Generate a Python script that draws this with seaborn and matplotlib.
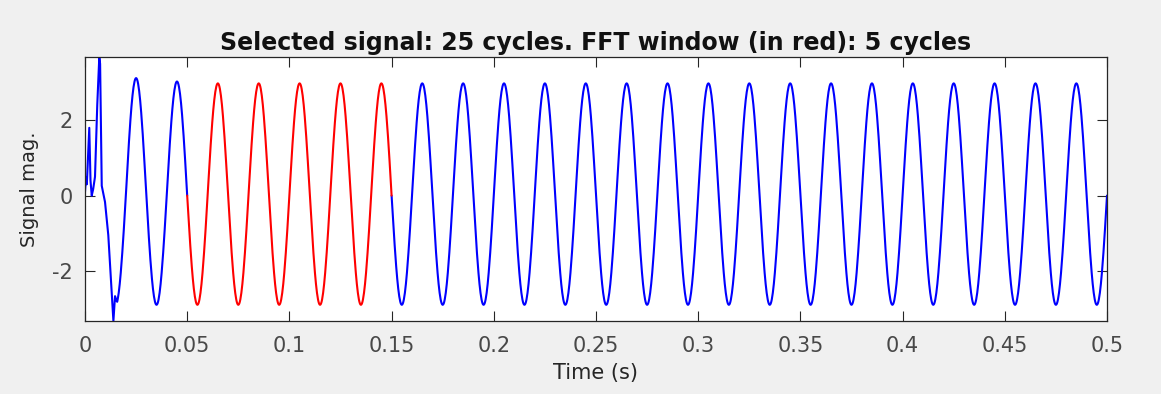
import numpy as np
import pandas as pd
import matplotlib
matplotlib.use("Agg")
import matplotlib.pyplot as plt
import seaborn as sns

### DATA ###

freq_hz = 50.0
n_cycles = 25
fft_start, fft_end = 0.05, 0.15

# start-up transient, explicit points
transient_t = [0.0, 0.0005, 0.0009, 0.0021, 0.0027, 0.0033, 0.0040, 0.0049,
               0.0060, 0.0070, 0.0074, 0.0082, 0.0098, 0.0114, 0.0132, 0.0139,
               0.0147, 0.0155]
transient_v = [0.09, 0.49, 0.30, 1.80, 0.40, 0.0, 0.17, 0.50,
               2.40, 3.68, 3.50, 0.26, -0.17, -1.05, -2.70, -3.33,
               -2.67, -2.80]

# positive and negative peak of each cycle (cycle 0 is the transient)
peak_vals = [3.0, 3.12, 3.03] + [2.98] * 22
trough_vals = [-2.9, -2.90] + [-2.90] * 23

### BUILD SIGNAL ###

t_rows, v_rows = list(transient_t), list(transient_v)
for k in range(n_cycles):
    tt = np.round(np.linspace(0.02 * k, 0.02 * (k + 1), 81)[1:], 9)
    ph = np.sin(2 * np.pi * freq_hz * tt)
    vv = np.where(ph >= 0, ph * peak_vals[k], -ph * trough_vals[k])
    keep = tt > transient_t[-1]
    t_rows += list(tt[keep])
    v_rows += list(vv[keep])

df = pd.DataFrame({"time": t_rows, "mag": v_rows})
eps = 1e-9
in_win = (df.time >= fft_start - eps) & (df.time <= fft_end + eps)
df["window"] = np.where(in_win, "fft", "sig")
df["segment"] = np.select([df.time < fft_start - eps, in_win], [0, 1], 2)
# repeat boundary points so the coloured pieces join up
edges = df[np.isclose(df.time, fft_start) | np.isclose(df.time, fft_end)].copy()
edges["window"] = "sig"
edges["segment"] = np.where(np.isclose(edges.time, fft_start), 0, 2)
df = pd.concat([df, edges]).sort_values(["segment", "time"])

### PLOT ###

sns.set_style("ticks")
plt.rcParams["font.family"] = ["DejaVu Sans"]
plt.rcParams["axes.unicode_minus"] = False
plt.rcParams["xtick.direction"] = "in"
plt.rcParams["ytick.direction"] = "in"

fig = plt.figure(figsize=(11.61, 3.94), dpi=100, facecolor="#f0f0f0")
ax = fig.add_axes([0.0732, 0.1853, 0.8803, 0.670])
ax.set_facecolor("white")

sns.lineplot(data=df, x="time", y="mag", hue="window", units="segment",
             estimator=None, sort=False, palette={"sig": "#0000ff", "fft": "#ff0000"},
             linewidth=1.5, legend=False, ax=ax)

ax.set_xlim(0, 0.5)
ax.set_ylim(min(v_rows), max(v_rows))
ax.set_xticks(np.arange(0, 0.501, 0.05))
ax.set_xticklabels(["0", "0.05", "0.1", "0.15", "0.2", "0.25", "0.3",
                    "0.35", "0.4", "0.45", "0.5"])
ax.set_yticks([-2, 0, 2])
ax.tick_params(top=True, right=True, length=7, width=0.8, colors="#262626",
               labelsize=15, labelcolor="#484848", pad=11)
ax.tick_params(axis="y", pad=9)
for s in ax.spines.values():
    s.set_color("#262626")
    s.set_linewidth(0.9)

ax.set_xlabel("Time (s)", fontsize=15, color="#262626", labelpad=5)
ax.set_ylabel("Signal mag.", fontsize=14, color="#262626", labelpad=9)
ax.set_title("Selected signal: 25 cycles. FFT window (in red): 5 cycles",
             fontsize=17, fontweight="bold", color="#111111", pad=5)

fig.savefig("out.png", dpi=100, facecolor=fig.get_facecolor())
